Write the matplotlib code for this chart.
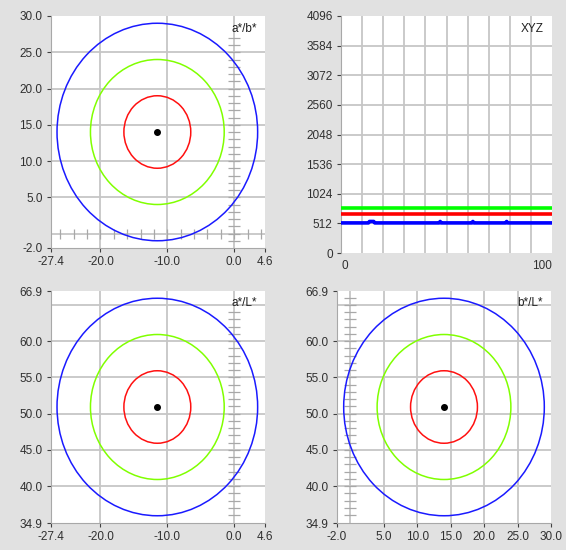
import matplotlib
matplotlib.use("Agg")
import matplotlib.pyplot as plt
from matplotlib.patches import Ellipse

plt.rcParams['font.family'] = ['Liberation Sans', 'DejaVu Sans']
plt.rcParams['font.size'] = 8.5

# color point and tolerance rings
center_a = -11.5
center_b = 14.0
center_L = 50.9
ring_radii = [5, 10, 15]
ring_colors = ["#ff1010", "#80ff00", "#1a1aff"]

# XYZ signals
xyz_t = [0, 100]
x_vals = [680, 680]
y_vals = [780, 780]
z_t = [0, 13, 13.5, 15.5, 16, 46.5, 47, 47.5, 62, 62.5, 63, 78, 78.5, 79, 100]
z_vals = [520, 520, 545, 545, 520, 520, 545, 520, 520, 545, 520, 520, 545, 520, 520]

# axes ticks
a_ticks = [-27.4, -20.0, -10.0, 0.0, 4.6]
a_grid = [-20, -10, 0]
b_ticks = [-2.0, 5.0, 10.0, 15.0, 20.0, 25.0, 30.0]
b_grid = [0, 5, 10, 15, 20, 25]
L_ticks = [34.9, 40.0, 45.0, 50.0, 55.0, 60.0, 66.9]
L_grid = [40, 45, 50, 55, 60, 65]
xyz_yticks = [0, 512, 1024, 1536, 2048, 2560, 3072, 3584, 4096]
xyz_xgrid = [10, 20, 30, 40, 50, 60, 70, 80, 90]

BG = "#e1e1e1"
GRID = "#c6c6c6"
AXC = "#a8a8a8"
W, H = 566, 550

fig = plt.figure(figsize=(W / 100, H / 100), dpi=100, facecolor=BG)


def make_ax(left, top, right, bottom):
    ax = fig.add_axes([left / W, 1 - bottom / H, (right - left) / W, (bottom - top) / H])
    ax.set_facecolor("white")
    for s in ["top", "right"]:
        ax.spines[s].set_visible(False)
    for s in ["left", "bottom"]:
        ax.spines[s].set_color(AXC)
        ax.spines[s].set_linewidth(0.8)
    ax.tick_params(direction="out", length=3, width=0.8, color="#404040",
                   labelsize=8.5, labelcolor="#303030", pad=3)
    return ax


def fmt(v):
    return ["%.1f" % t for t in v]


def chroma_panel(ax, cx, cy, xlim, ylim, xticks, yticks, xgrid, ygrid, label):
    ax.set_xlim(*xlim)
    ax.set_ylim(*ylim)
    for g in xgrid:
        ax.axvline(g, color=GRID, lw=1.3, zorder=1)
    for g in ygrid:
        ax.axhline(g, color=GRID, lw=1.3, zorder=1)
    ax.set_xticks(xticks)
    ax.set_xticklabels(fmt(xticks))
    ax.set_yticks(yticks)
    ax.set_yticklabels(fmt(yticks))
    for r, c in zip(ring_radii, ring_colors):
        ax.add_patch(Ellipse((cx, cy), 2 * r, 2 * r, fill=False, ec=c, lw=1.1, zorder=3))
    ax.plot([cx], [cy], "o", color="black", ms=4, zorder=4)
    ax.annotate(label, xy=(1, 1), xycoords="axes fraction", xytext=(-6, -9),
                textcoords="offset points", ha="right", va="center",
                fontsize=8.5, color="#202020")


# a*/b*
ax1 = make_ax(51, 16, 265, 248)
chroma_panel(ax1, center_a, center_b, (-27.4, 4.6), (-2.0, 30.0),
             a_ticks, b_ticks, a_grid, b_grid, "a*/b*")
ax1.plot([0] * 29, list(range(-1, 28)), ls="none", marker="_", ms=8.5,
         mec=AXC, mew=0.9, zorder=2)
ax1.plot(list(range(-26, 5, 2)), [0] * 16, ls="none", marker="|", ms=6.5,
         mec=AXC, mew=0.9, zorder=2)

# XYZ
ax2 = make_ax(341, 16, 552, 253)
ax2.set_xlim(0, 100)
ax2.set_ylim(0, 4096)
for g in xyz_xgrid:
    ax2.axvline(g, color=GRID, lw=1.3, zorder=1)
for g in xyz_yticks[1:-1]:
    ax2.axhline(g, color=GRID, lw=1.3, zorder=1)
ax2.set_yticks(xyz_yticks)
ax2.set_xticks([0, 100])
ax2.set_xticklabels(["0", "100"])
ax2.tick_params(axis="x", length=0, pad=5)
lbls = ax2.get_xticklabels()
lbls[0].set_ha("left")
lbls[1].set_ha("right")
ax2.spines["bottom"].set_visible(False)
ax2.plot(xyz_t, y_vals, color="#00ff00", lw=2.6, zorder=3)
ax2.plot(xyz_t, x_vals, color="#ff0000", lw=2.6, zorder=3)
ax2.plot(z_t, z_vals, color="#0000ff", lw=2.6, zorder=3)
ax2.annotate("XYZ", xy=(1, 1), xycoords="axes fraction", xytext=(-6, -9),
             textcoords="offset points", ha="right", va="center",
             fontsize=8.5, color="#202020")

# a*/L*
ax3 = make_ax(51, 291, 265, 523)
chroma_panel(ax3, center_a, center_L, (-27.4, 4.6), (34.9, 66.9),
             a_ticks, L_ticks, a_grid, L_grid, "a*/L*")
ax3.plot([0] * 29, list(range(36, 65)), ls="none", marker="_", ms=8.5,
         mec=AXC, mew=0.9, zorder=2)

# b*/L*
ax4 = make_ax(337, 291, 551, 523)
chroma_panel(ax4, center_b, center_L, (-2.0, 30.0), (34.9, 66.9),
             b_ticks, L_ticks, b_grid, L_grid, "b*/L*")
ax4.plot([0] * 31, list(range(36, 67)), ls="none", marker="_", ms=8.5,
         mec=AXC, mew=0.9, zorder=2)

fig.savefig("out.png", dpi=100, facecolor=BG)
